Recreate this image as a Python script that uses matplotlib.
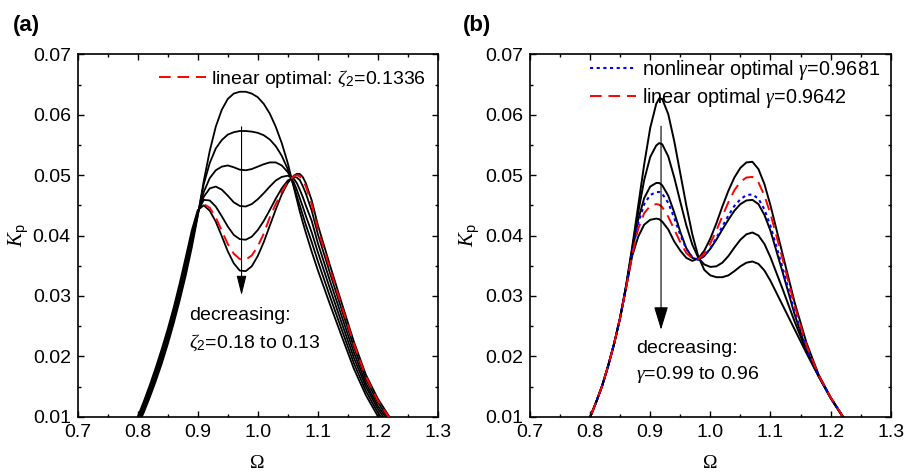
import matplotlib
matplotlib.use("Agg")
import matplotlib.pyplot as plt
from matplotlib.patches import Rectangle
from matplotlib.ticker import MultipleLocator, FormatStrFormatter, AutoMinorLocator

plt.rcParams['font.family'] = ['Liberation Sans', 'DejaVu Sans']
plt.rcParams['mathtext.fontset'] = 'custom'
plt.rcParams['mathtext.rm'] = 'Liberation Sans'
plt.rcParams['mathtext.it'] = 'Liberation Serif:italic'

# ---------------- panel (a): damping ratio zeta2 from 0.18 down to 0.13 ----------------
omega_a = [0.79, 0.80, 0.81, 0.82, 0.83, 0.84, 0.85, 0.86, 0.87, 0.88, 0.89, 0.90, 0.91,
           0.92, 0.93, 0.94, 0.95, 0.96, 0.97, 0.98, 0.99, 1.00, 1.01, 1.02, 1.03, 1.04,
           1.05, 1.06, 1.065, 1.07, 1.075, 1.08, 1.09, 1.10, 1.12, 1.14, 1.16, 1.18, 1.20,
           1.22, 1.24]

kp_zeta_018 = [.0065, .0085, .0107, .0132, .0159, .0188, .0220, .0255, .0293, .0334, .0380, .0432, .0490,
               .0540, .0580, .0608, .0626, .0635, .0638, .0638, .0635, .0629, .0618, .0602, .0580, .0553,
               .0520, .0480, .0460, .0440, .0422, .0405, .0373, .0343, .0287, .0233, .0180, .0136, .0101,
               .0076, .0056]
kp_zeta_017 = [.0068, .0088, .0111, .0136, .0163, .0193, .0225, .0260, .0299, .0340, .0386, .0434, .0485,
               .0520, .0544, .0558, .0567, .0571, .0573, .0573, .0572, .0570, .0566, .0559, .0548, .0532,
               .0510, .0482, .0466, .0450, .0434, .0418, .0389, .0358, .0300, .0244, .0189, .0143, .0107,
               .0081, .0060]
kp_zeta_016 = [.0070, .0091, .0114, .0140, .0168, .0198, .0230, .0265, .0304, .0346, .0391, .0436, .0472,
               .0495, .0508, .0514, .0516, .0513, .0509, .0508, .0510, .0514, .0518, .0521, .0521, .0516,
               .0505, .0488, .0476, .0462, .0448, .0433, .0405, .0373, .0313, .0255, .0198, .0150, .0113,
               .0085, .0064]
kp_zeta_015 = [.0073, .0094, .0118, .0144, .0172, .0202, .0235, .0271, .0310, .0352, .0397, .0438, .0464,
               .0478, .0481, .0476, .0466, .0455, .0449, .0448, .0452, .0460, .0470, .0481, .0491, .0497,
               .0499, .0494, .0487, .0476, .0464, .0450, .0424, .0388, .0326, .0266, .0207, .0156, .0118,
               .0090, .0067]
kp_zeta_014 = [.0075, .0097, .0121, .0148, .0177, .0207, .0240, .0276, .0315, .0358, .0402, .0440, .0459,
               .0458, .0448, .0432, .0415, .0401, .0394, .0393, .0398, .0409, .0424, .0442, .0461, .0478,
               .0491, .0497, .0496, .0492, .0482, .0470, .0441, .0403, .0339, .0277, .0216, .0163, .0124,
               .0094, .0071]
kp_zeta_013 = [.0078, .0100, .0125, .0152, .0181, .0212, .0245, .0281, .0321, .0364, .0408, .0442, .0450,
               .0441, .0423, .0399, .0374, .0354, .0342, .0341, .0349, .0366, .0389, .0416, .0443, .0468,
               .0487, .0499, .0502, .0502, .0497, .0487, .0458, .0418, .0352, .0288, .0225, .0170, .0130,
               .0099, .0075]
kp_zeta_opt = [.0077, .0099, .0123, .0150, .0179, .0210, .0243, .0278, .0318, .0361, .0405, .0441, .0452,
               .0446, .0430, .0408, .0386, .0370, .0361, .0360, .0367, .0382, .0403, .0430, .0452, .0472,
               .0489, .0498, .0500, .0498, .0491, .0482, .0452, .0411, .0346, .0283, .0221, .0167, .0127,
               .0097, .0073]

# ---------------- panel (b): tuning ratio gamma from 0.99 down to 0.96 ----------------
omega_b = [0.79, 0.80, 0.81, 0.82, 0.83, 0.84, 0.85, 0.86, 0.87, 0.88, 0.89, 0.90, 0.91, 0.915,
           0.92, 0.93, 0.94, 0.95, 0.96, 0.97, 0.98, 0.99, 1.00, 1.01, 1.02, 1.03, 1.04, 1.05,
           1.06, 1.07, 1.08, 1.09, 1.10, 1.12, 1.14, 1.16, 1.18, 1.20, 1.22, 1.24]

kp_gamma_099 = [.0077, .0099, .0124, .0151, .0184, .0221, .0264, .0318, .0381, .0449, .0518, .0578, .0618, .0627,
                .0626, .0601, .0556, .0503, .0450, .0402, .0365, .0343, .0334, .0331, .0331, .0334, .0341, .0349,
                .0355, .0357, .0353, .0342, .0325, .0285, .0245, .0205, .0167, .0131, .0100, .0075]
kp_gamma_098 = [.0077, .0099, .0124, .0151, .0184, .0221, .0264, .0317, .0377, .0438, .0492, .0530, .0549, .0553,
                .0551, .0531, .0496, .0456, .0417, .0385, .0363, .0352, .0348, .0349, .0355, .0366, .0380, .0393,
                .0402, .0405, .0400, .0386, .0364, .0312, .0258, .0208, .0167, .0131, .0100, .0075]
kp_gamma_097 = [.0077, .0099, .0124, .0151, .0184, .0221, .0264, .0316, .0373, .0426, .0462, .0481, .0487, .0487,
                .0483, .0466, .0438, .0406, .0379, .0363, .0360, .0366, .0378, .0393, .0410, .0426, .0441, .0452,
                .0458, .0459, .0452, .0434, .0408, .0340, .0270, .0210, .0168, .0132, .0101, .0076]
kp_gamma_096 = [.0077, .0099, .0124, .0151, .0184, .0221, .0264, .0314, .0366, .0398, .0418, .0426, .0428, .0427,
                .0423, .0410, .0390, .0375, .0363, .0358, .0362, .0375, .0395, .0420, .0448, .0474, .0496, .0512,
                .0521, .0522, .0510, .0485, .0450, .0370, .0290, .0222, .0170, .0132, .0101, .0076]
kp_gamma_nonlin = [.0077, .0099, .0124, .0151, .0184, .0221, .0264, .0315, .0371, .0420, .0452, .0467, .0472, .0472,
                   .0469, .0454, .0429, .0401, .0378, .0364, .0360, .0366, .0379, .0396, .0415, .0433, .0449, .0460,
                   .0467, .0468, .0461, .0443, .0416, .0347, .0275, .0213, .0168, .0132, .0101, .0076]
kp_gamma_lin = [.0077, .0099, .0124, .0151, .0184, .0221, .0264, .0314, .0368, .0411, .0437, .0449, .0452, .0451,
                .0447, .0431, .0410, .0389, .0371, .0362, .0361, .0370, .0387, .0408, .0432, .0455, .0475, .0489,
                .0496, .0497, .0488, .0466, .0436, .0362, .0284, .0218, .0169, .0132, .0101, .0076]

black_a = [kp_zeta_018, kp_zeta_017, kp_zeta_016, kp_zeta_015, kp_zeta_014, kp_zeta_013]
black_b = [kp_gamma_099, kp_gamma_098, kp_gamma_097, kp_gamma_096]

FS = 14
RED_DASH = (0, (6, 3.5))
BLUE_DOT = (0, (1.5, 1.7))


def style_axes(ax):
    ax.set_xlim(0.7, 1.3)
    ax.set_ylim(0.01, 0.07)
    ax.xaxis.set_major_locator(MultipleLocator(0.1))
    ax.xaxis.set_major_formatter(FormatStrFormatter('%.1f'))
    ax.yaxis.set_major_locator(MultipleLocator(0.01))
    ax.yaxis.set_major_formatter(FormatStrFormatter('%.2f'))
    ax.xaxis.set_minor_locator(AutoMinorLocator(2))
    ax.yaxis.set_minor_locator(AutoMinorLocator(2))
    ax.tick_params(which='both', direction='in', top=True, right=True, width=1.0)
    ax.tick_params(which='major', length=4.5, labelsize=FS, pad=5)
    ax.tick_params(which='minor', length=2.5)
    for sp in ax.spines.values():
        sp.set_linewidth(1.2)
    ax.set_xlabel('Ω', family='Liberation Serif', fontsize=14)
    ax.set_ylabel(r'$K_\mathrm{p}$', fontsize=15)
    ax.xaxis.set_label_coords(0.5, -0.106)


fig = plt.figure(figsize=(9.05, 4.73), dpi=100)
ax1 = fig.add_axes([0.0859, 0.119, 0.3978, 0.7662])
ax2 = fig.add_axes([0.5856, 0.119, 0.3986, 0.7662])

# (a) -- the red curve is hidden inside the black bundle on the left skirt
for kp in black_a:
    ax1.plot(omega_a, kp, color='black', lw=1.3, zorder=3)
red_a, = ax1.plot(omega_a, kp_zeta_opt, color='red', lw=1.4, linestyle=RED_DASH, zorder=4,
                  label=r'linear optimal: $\zeta_2$=0.1336')
red_a.set_clip_path(Rectangle((0.905, 0.01), 0.395, 0.06, transform=ax1.transData))
ax1.annotate('', xy=(0.973, 0.0301), xytext=(0.973, 0.0580),
             arrowprops=dict(arrowstyle='-|>,head_length=0.6,head_width=0.15',
                             mutation_scale=20, lw=0.8, color='black',
                             shrinkA=0, shrinkB=0))
ax1.text(0.885, 0.0268, 'decreasing:', fontsize=FS, va='center', ha='left')
ax1.text(0.885, 0.0222, r'$\zeta_2$=0.18 to 0.13', fontsize=FS, va='center', ha='left')
style_axes(ax1)
ax1.yaxis.set_label_coords(-0.13, 0.5)
ax1.legend(loc='upper right', bbox_to_anchor=(0.966, 0.962), frameon=False,
           fontsize=FS, handlelength=2.4, handletextpad=0.25,
           borderpad=0, borderaxespad=0)

# (b)
for kp in black_b:
    ax2.plot(omega_b, kp, color='black', lw=1.4)
ax2.plot(omega_b, kp_gamma_nonlin, color='blue', lw=1.5, linestyle=BLUE_DOT,
         label=r'nonlinear optimal $\gamma$=0.9681')
ax2.plot(omega_b, kp_gamma_lin, color='red', lw=1.4, linestyle=RED_DASH,
         label=r'linear optimal $\gamma$=0.9642')
ax2.annotate('', xy=(0.918, 0.0244), xytext=(0.918, 0.0581),
             arrowprops=dict(arrowstyle='-|>,head_length=0.72,head_width=0.22',
                             mutation_scale=20, lw=0.8, color='black',
                             shrinkA=0, shrinkB=0))
ax2.text(0.877, 0.0213, 'decreasing:', fontsize=FS, va='center', ha='left')
ax2.text(0.877, 0.0170, r'$\gamma$=0.99 to 0.96', fontsize=FS, va='center', ha='left')
style_axes(ax2)
ax2.yaxis.set_label_coords(-0.133, 0.5)
ax2.legend(loc='upper right', bbox_to_anchor=(0.970, 0.99), frameon=False,
           fontsize=14.3, handlelength=2.3, handletextpad=0.3, labelspacing=0.2,
           borderpad=0, borderaxespad=0)

fig.text(13 / 905, 1 - 25 / 473, '(a)', fontsize=16, fontweight='bold', va='center', ha='left')
fig.text(463 / 905, 1 - 25 / 473, '(b)', fontsize=16, fontweight='bold', va='center', ha='left')

fig.savefig('out.png', dpi=100)
